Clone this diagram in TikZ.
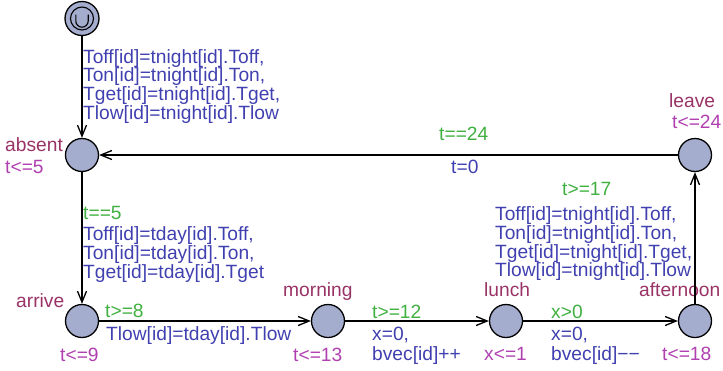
\documentclass[tikz,border=0pt]{standalone}
\usepackage{fontspec}
\setmainfont{Liberation Sans}
\usetikzlibrary{arrows.meta}
\definecolor{locfill}{HTML}{A5ADCE}
\definecolor{namecol}{HTML}{993366}
\definecolor{invcol}{HTML}{B040B0}
\definecolor{guardcol}{HTML}{40B040}
\definecolor{assigncol}{HTML}{4040B0}
\tikzset{
  loc/.style={circle, draw=black, line width=1.3pt, fill=locfill, minimum size=33pt, inner sep=0pt},
  lab/.style={anchor=base west, inner sep=0pt, font=\fontsize{19.2}{18.7}\selectfont},
  nm/.style={lab, text=namecol},
  inv/.style={lab, text=invcol},
  grd/.style={lab, text=guardcol},
  asg/.style={lab, text=assigncol},
  edge/.style={line width=1.3pt, -{Straight Barb[length=11pt,width=9pt,line width=1.3pt]}}
}
\begin{document}
\begin{tikzpicture}[x=1pt,y=-1pt]
\useasboundingbox (0,0) rectangle (723,370);
% locations
\node[loc, minimum size=34pt] (init) at (82,18.5) {};
\node[loc] (absent) at (82,155) {};
\node[loc] (arrive) at (82,321) {};
\node[loc] (morning) at (328,321) {};
\node[loc] (lunch) at (506,321) {};
\node[loc] (afternoon) at (695,321) {};
\node[loc] (leave) at (695,155) {};
% initial marker
\draw[line width=1.1pt] (init.center) circle[radius=11.5];
\draw[line width=1.1pt] ([shift={(-6.2,-4)}]init.center) -- ([shift={(-6.2,2.5)}]init.center)
  arc[start angle=180, end angle=0, radius=6.2] -- ([shift={(6.2,-4)}]init.center);
% labels
\node[asg] (ia1) at (83,63) {Toff[id]=tnight[id].Toff,};
\node[asg] (ia2) at (83,81.7) {Ton[id]=tnight[id].Ton,};
\node[asg] (ia3) at (83,100.4) {Tget[id]=tnight[id].Tget,};
\node[asg] (ia4) at (83,119.1) {Tlow[id]=tnight[id].Tlow};
\node[nm] (nabsent) at (5,151.7) {absent};
\node[inv] (iabsent) at (5,173) {t<=5};
\node[grd] (g1) at (83,219) {t==5};
\node[asg] (a11) at (83,240.7) {Toff[id]=tday[id].Toff,};
\node[asg] (a12) at (83,259.4) {Ton[id]=tday[id].Ton,};
\node[asg] (a13) at (83,278.1) {Tget[id]=tday[id].Tget};
\node[nm] (narrive) at (16,307) {arrive};
\node[inv] (iarrive) at (60,361.7) {t<=9};
\node[grd] (g2) at (105,317.7) {t>=8};
\node[asg] (a2) at (106,340) {Tlow[id]=tday[id].Tlow};
\node[nm] (nmorning) at (283,296.7) {morning};
\node[inv] (imorning) at (293,361.7) {t<=13};
\node[grd] (g3) at (372,318.3) {t>=12};
\node[asg] (a31) at (372,340.7) {x=0,};
\node[asg] (a32) at (372,360) {bvec[id]++};
\node[nm] (nlunch) at (484,296.7) {lunch};
\node[inv] (ilunch) at (484,360) {x<=1};
\node[grd] (g4) at (551,318.3) {x>0};
\node[asg] (a41) at (551,340.7) {x=0,};
\node[asg] (a42) at (551,360) {bvec[id]−−};
\node[nm] (nafternoon) at (639,296.7) {afternoon};
\node[inv] (iafternoon) at (662,360) {t<=18};
\node[nm] (nleave) at (669,107) {leave};
\node[inv] (ileave) at (672,128.5) {t<=24};
\node[grd] (g5) at (439,140.7) {t==24};
\node[asg] (a5) at (451,173.3) {t=0};
\node[grd] (g6) at (562,195) {t>=17};
\node[asg] (a61) at (495,220.7) {Toff[id]=tnight[id].Toff,};
\node[asg] (a62) at (495,239.4) {Ton[id]=tnight[id].Ton,};
\node[asg] (a63) at (495,258.1) {Tget[id]=tnight[id].Tget,};
\node[asg] (a64) at (495,276.8) {Tlow[id]=tnight[id].Tlow};
% edges
\draw[edge] (init) -- (absent);
\draw[edge] (absent) -- (arrive);
\draw[edge] (arrive) -- (morning);
\draw[edge] (morning) -- (lunch);
\draw[edge] (lunch) -- (afternoon);
\draw[edge] (afternoon) -- (leave);
\draw[edge] (leave) -- (absent);
\end{tikzpicture}
\end{document}
